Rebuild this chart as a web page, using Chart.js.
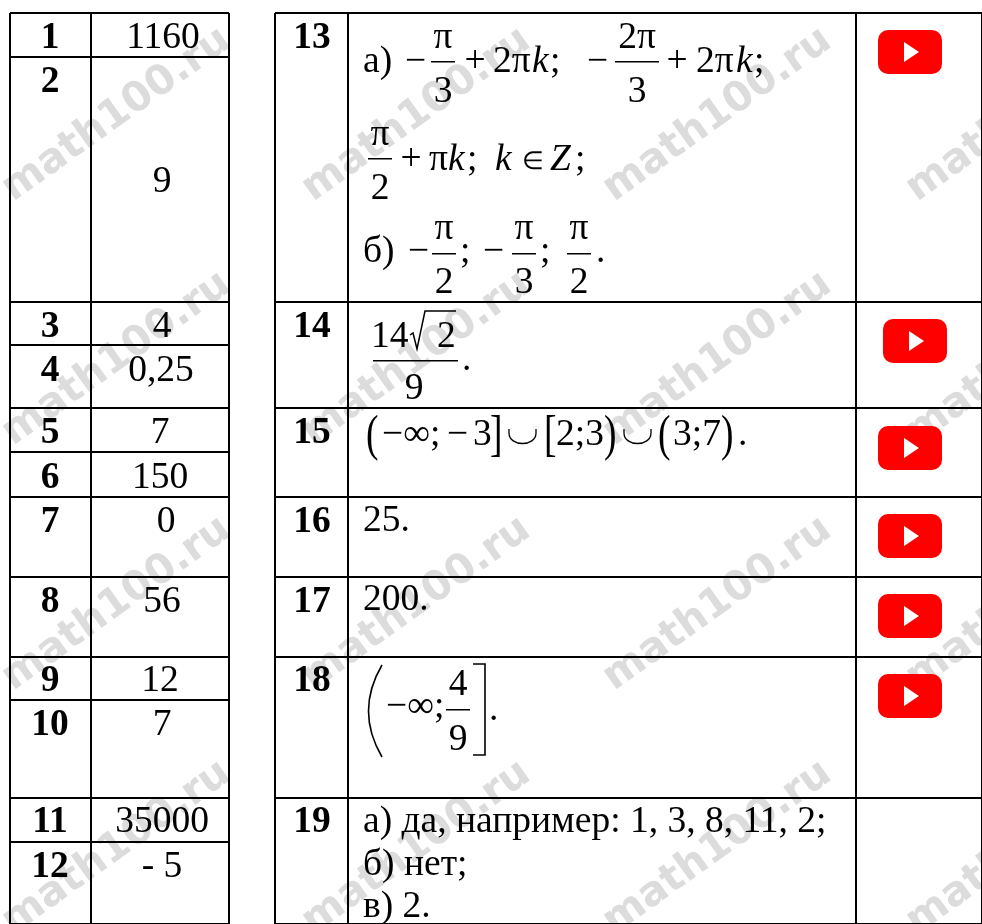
<!DOCTYPE html>
<html>
<head>
<meta charset="utf-8">
<style>
  html, body { margin: 0; padding: 0; background: #fff; }
  canvas { display: block; }
</style>
<script src="https://cdn.jsdelivr.net/npm/chart.js@4/dist/chart.umd.js"></script>
</head>
<body>
<canvas id="chart" width="982" height="924"></canvas>
<script>
/* ── Table content ── */
const leftNumbers = ["1", "2", "3", "4", "5", "6", "7", "8", "9", "10", "11", "12"];
const leftAnswers = ["1160", "9", "4", "0,25", "7", "150", "0", "56", "12", "7", "35000", "- 5"];
const rightNumbers = ["13", "14", "15", "16", "17", "18", "19"];
const plainAnswers = ["25.", "200."];
const lastAnswer = ["а) да, например: 1, 3, 8, 11, 2;", "б) нет;", "в) 2."];
const watermark = "math100.ru";

/* ── Table rules, in picture pixels ── */
const leftCols = [10, 91, 229];
const rightCols = [275, 348, 856, 982];
const leftRows = [13, 57, 302, 345, 408, 452, 497, 577, 657, 700, 798, 842, 924];
const rightRows = [13, 302, 408, 497, 577, 657, 798, 924];

/* ── Where the text of each row sits ── */
const leftBase = [48, 92, 337, 381, 443, 488, 532, 612, 691, 735, 832, 877];
const leftValueBase = [48, 192, 337, 381, 443, 488, 532, 612, 691, 735, 832, 877];
const leftValueX = [163, 162, 162, 161, 160, 160, 166, 162, 160, 162, 162, 162];
const rightBase = [48, 337, 443, 532, 612, 691, 832];
const iconTops = [30, 319, 426, 514, 594, 674];
const iconLefts = [878, 883, 878, 878, 878, 878];
const markCols = [13, 313, 614, 917];
const markRows = [202, 446, 691, 935];

const SERIF = '"Liberation Serif"';
const SIZE = 37.5;

function ruleSets(cols, rows) {
  const sets = [];
  cols.forEach(x => sets.push([{ x: x, y: rows[0] }, { x: x, y: rows[rows.length - 1] }]));
  rows.forEach(y => sets.push([{ x: cols[0], y: y }, { x: cols[cols.length - 1], y: y }]));
  return sets;
}

const rules = ruleSets(leftCols, leftRows).concat(ruleSets(rightCols, rightRows));

/* ── Watermark goes under the rules ── */
const watermarkPlugin = {
  id: "watermark",
  beforeDatasetsDraw(chart) {
    const ctx = chart.ctx, sx = chart.scales.x, sy = chart.scales.y;
    ctx.save();
    ctx.fillStyle = "#dcdcdc";
    ctx.font = 'bold 41px "DejaVu Sans"';
    ctx.textAlign = "left";
    ctx.textBaseline = "alphabetic";
    markRows.forEach(y => markCols.forEach(x => {
      ctx.save();
      ctx.translate(sx.getPixelForValue(x), sy.getPixelForValue(y));
      ctx.rotate(-35.5 * Math.PI / 180);
      ctx.fillText(watermark, 0, 0);
      ctx.restore();
    }));
    ctx.restore();
  }
};

/* ── Text, formulas and icons on top ── */
const contentPlugin = {
  id: "content",
  afterDatasetsDraw(chart) {
    const ctx = chart.ctx, sx = chart.scales.x, sy = chart.scales.y;
    const X = v => sx.getPixelForValue(v), Y = v => sy.getPixelForValue(v);

    function put(str, x, y, align, style, size) {
      ctx.font = (style || "") + " " + (size || SIZE) + "px " + SERIF;
      ctx.textAlign = align || "left";
      ctx.fillText(str, X(x), Y(y));
    }
    function bar(x1, x2, y) {
      ctx.fillRect(X(x1), Y(y) - 1, x2 - x1, 1.5);
    }
    function frac(top, bottom, cx, half, topBase, barY, bottomBase) {
      put(top, cx, topBase, "center");
      bar(cx - half, cx + half, barY);
      put(bottom, cx, bottomBase, "center");
    }
    // short bracket: one glyph stretched to the height it has in the picture
    function tall(ch, x, y) {
      ctx.save();
      ctx.translate(X(x), Y(y));
      ctx.scale(1, 1.35);
      ctx.font = SIZE + "px " + SERIF;
      ctx.textAlign = "left";
      ctx.fillText(ch, 0, 0);
      ctx.restore();
    }
    function stroke(width, draw) {
      ctx.lineWidth = width;
      ctx.beginPath();
      draw();
      ctx.stroke();
    }
    function union(x, y) {
      stroke(1.3, () => {
        ctx.moveTo(X(x), Y(y - 16));
        ctx.lineTo(X(x), Y(y - 12));
        ctx.bezierCurveTo(X(x), Y(y + 2), X(x + 27), Y(y + 2), X(x + 27), Y(y - 12));
        ctx.lineTo(X(x + 27), Y(y - 16));
      });
    }
    function icon(x, y) {
      const px = X(x), py = Y(y);
      ctx.fillStyle = "#ff0000";
      ctx.beginPath();
      ctx.roundRect(px, py, 64, 44, 10);
      ctx.fill();
      ctx.fillStyle = "#ffffff";
      ctx.beginPath();
      ctx.moveTo(px + 26, py + 12);
      ctx.lineTo(px + 41, py + 22);
      ctx.lineTo(px + 26, py + 32);
      ctx.closePath();
      ctx.fill();
      ctx.fillStyle = "#000000";
    }

    ctx.save();
    ctx.fillStyle = "#000000";
    ctx.strokeStyle = "#000000";
    ctx.textBaseline = "alphabetic";

    leftNumbers.forEach((n, i) => put(n, 50, leftBase[i], "center", "bold"));
    leftAnswers.forEach((a, i) => put(a, leftValueX[i], leftValueBase[i], "center"));
    rightNumbers.forEach((n, i) => put(n, 312, rightBase[i], "center", "bold"));

    /* 13 a) */
    put("а)", 363, 72);
    put("−", 405, 72);
    frac("π", "3", 443, 12, 48, 62, 102);
    put("+", 475, 72, "center");
    put("2π", 493, 72);
    put("k", 532, 72, "left", "italic");
    put(";", 550, 72);
    put("−", 587, 72);
    frac("2π", "3", 637, 22, 48, 62, 102);
    put("+", 677, 72, "center");
    put("2π", 696, 72);
    put("k", 736, 72, "left", "italic");
    put(";", 754, 72);

    /* 13 second line */
    frac("π", "2", 380, 12, 145, 159, 199);
    put("+", 411, 170, "center");
    put("π", 429, 170);
    put("k", 448, 170, "left", "italic");
    put(";", 467, 170);
    put("k", 495, 170, "left", "italic");
    put("∈", 522, 169, "left", "", 25);
    put("Z", 550, 170, "left", "italic");
    put(";", 575, 170);

    /* 13 b) */
    put("б)", 363, 262);
    put("−", 408, 262);
    frac("π", "2", 444, 12, 239, 254, 293);
    put(";", 460, 262);
    put("−", 483, 262);
    frac("π", "3", 524, 12, 239, 254, 293);
    put(";", 540, 262);
    frac("π", "2", 579, 12, 239, 254, 293);
    put(".", 596, 262);

    /* 14 */
    put("14", 371, 347);
    stroke(1.5, () => {
      ctx.moveTo(X(410), Y(335));
      ctx.lineTo(X(413), Y(333));
      ctx.lineTo(X(417), Y(349));
      ctx.lineTo(X(425), Y(311));
      ctx.lineTo(X(456), Y(311));
    });
    put("2", 437, 347);
    bar(373, 458, 361);
    put("9", 414, 399, "center");
    put(".", 462, 370);

    /* 15 */
    tall("(", 366, 450);
    put("−∞;", 382, 445);
    put("−", 447, 445);
    put("3", 473, 445);
    tall("]", 490, 450);
    union(509, 445);
    tall("[", 544, 450);
    put("2;3", 556, 445);
    tall(")", 604, 450);
    union(624, 445);
    tall("(", 658, 450);
    put("3;7", 673, 445);
    tall(")", 721, 450);
    put(".", 738, 445);

    /* 16, 17 */
    put(plainAnswers[0], 363, 531);
    put(plainAnswers[1], 363, 610);

    /* 18 */
    stroke(1.6, () => {
      ctx.moveTo(X(382), Y(665));
      ctx.quadraticCurveTo(X(355), Y(711), X(382), Y(757));
    });
    put("−∞;", 386, 717);
    frac("4", "9", 458, 12, 695, 710, 750);
    stroke(1.6, () => {
      ctx.moveTo(X(473), Y(664));
      ctx.lineTo(X(485), Y(664));
      ctx.lineTo(X(485), Y(755));
      ctx.lineTo(X(473), Y(755));
    });
    put(".", 489, 720);

    /* 19 */
    lastAnswer.forEach((line, i) => put(line, 363, [832, 875, 917][i]));

    iconTops.forEach((top, i) => icon(iconLefts[i], top));
    ctx.restore();
  }
};

new Chart(document.getElementById("chart"), {
  type: "scatter",
  data: {
    datasets: rules.map(pts => ({
      data: pts,
      showLine: true,
      borderColor: "#000000",
      borderWidth: 2,
      pointRadius: 0,
      clip: false
    }))
  },
  options: {
    responsive: false,
    animation: false,
    layout: { padding: 0 },
    plugins: { legend: { display: false }, tooltip: { enabled: false } },
    scales: {
      x: { type: "linear", min: 0, max: 982, display: false },
      y: { type: "linear", min: 0, max: 924, reverse: true, display: false }
    }
  },
  plugins: [watermarkPlugin, contentPlugin]
});
</script>
</body>
</html>
